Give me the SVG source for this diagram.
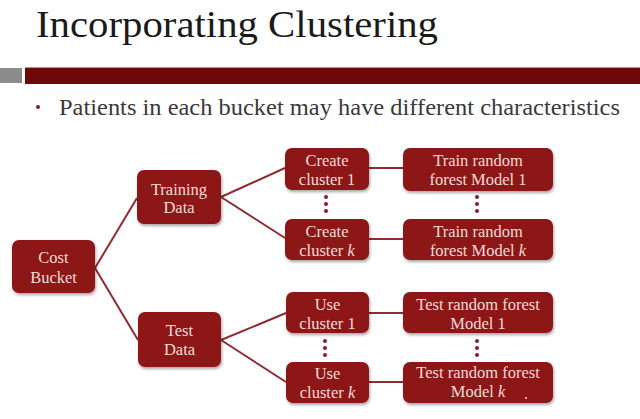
<svg xmlns="http://www.w3.org/2000/svg" width="640" height="419" viewBox="0 0 640 419">
<defs>
<filter id="sh" x="-10%" y="-10%" width="125%" height="140%">
<feDropShadow dx="1" dy="2" stdDeviation="1.5" flood-color="#000" flood-opacity="0.35"/>
</filter>
<style>
.box{fill:#8d1318;filter:url(#sh)}
.serif{font-family:"Liberation Serif","Times New Roman",serif}
.lbl{font-family:"Liberation Serif","Times New Roman",serif;font-size:16.5px;fill:#f3dcd9;text-anchor:middle}
.con line{stroke:#8e2a30;stroke-width:2}
.dot{fill:#8b1a2a}
</style>
</defs>
<rect width="640" height="419" fill="#ffffff"/>
<text class="serif" x="36" y="37" font-size="37" fill="#1a1a1a" textLength="402" lengthAdjust="spacingAndGlyphs">Incorporating Clustering</text>
<rect x="0" y="68" width="22" height="15" fill="#8c8c8c"/>
<rect x="25" y="67" width="615" height="17" fill="#6e0808"/>
<line x1="25" y1="67.5" x2="640" y2="67.5" stroke="#c89090" stroke-width="1"/>
<circle cx="38" cy="107" r="2" fill="#8b1a2a"/>
<text class="serif" x="59" y="115" font-size="23" fill="#3a3a3a" textLength="561" lengthAdjust="spacingAndGlyphs">Patients in each bucket may have different characteristics</text>
<g class="con" id="connectors">
<line x1="95" y1="268" x2="137" y2="198"/>
<line x1="95" y1="268" x2="138" y2="340"/>
<line x1="221" y1="197" x2="285" y2="168"/>
<line x1="221" y1="197" x2="285" y2="238"/>
<line x1="221" y1="340" x2="286" y2="313"/>
<line x1="221" y1="340" x2="286" y2="382"/>
<line x1="369" y1="168" x2="403" y2="168"/>
<line x1="369" y1="239" x2="403" y2="239"/>
<line x1="369" y1="313" x2="403" y2="313"/>
<line x1="369" y1="382" x2="403" y2="382"/>
<circle class="dot" cx="326" cy="197" r="2"/>
<circle class="dot" cx="326" cy="204" r="2"/>
<circle class="dot" cx="326" cy="211" r="2"/>
<circle class="dot" cx="477" cy="197" r="2"/>
<circle class="dot" cx="477" cy="204" r="2"/>
<circle class="dot" cx="477" cy="211" r="2"/>
<circle class="dot" cx="325" cy="341" r="2"/>
<circle class="dot" cx="325" cy="348" r="2"/>
<circle class="dot" cx="325" cy="355" r="2"/>
<circle class="dot" cx="477" cy="341" r="2"/>
<circle class="dot" cx="477" cy="348" r="2"/>
<circle class="dot" cx="477" cy="355" r="2"/>
</g>
<g id="cost-bucket"><rect class="box" x="12" y="240" width="83" height="53" rx="7"/><text class="lbl" x="53.5" y="263">Cost</text><text class="lbl" x="53.5" y="283">Bucket</text></g>
<g id="training-data"><rect class="box" x="137" y="170" width="84" height="54" rx="7"/><text class="lbl" x="179" y="195">Training</text><text class="lbl" x="179" y="213">Data</text></g>
<g id="test-data"><rect class="box" x="138" y="312" width="83" height="55" rx="7"/><text class="lbl" x="179.5" y="336">Test</text><text class="lbl" x="179.5" y="355">Data</text></g>
<g id="create-cluster-1"><rect class="box" x="285" y="148" width="84" height="42" rx="7"/><text class="lbl" x="327" y="166">Create</text><text class="lbl" x="327" y="185">cluster 1</text></g>
<g id="create-cluster-k"><rect class="box" x="285" y="219" width="84" height="41" rx="7"/><text class="lbl" x="327" y="237">Create</text><text class="lbl" x="327" y="256">cluster <tspan font-style="italic">k</tspan></text></g>
<g id="train-model-1"><rect class="box" x="403" y="148" width="150" height="43" rx="7"/><text class="lbl" x="478" y="166">Train random</text><text class="lbl" x="478" y="185">forest Model 1</text></g>
<g id="train-model-k"><rect class="box" x="403" y="219" width="150" height="41" rx="7"/><text class="lbl" x="478" y="237">Train random</text><text class="lbl" x="478" y="256">forest Model <tspan font-style="italic">k</tspan></text></g>
<g id="use-cluster-1"><rect class="box" x="286" y="292" width="83" height="41" rx="7"/><text class="lbl" x="327.5" y="310">Use</text><text class="lbl" x="327.5" y="329">cluster 1</text></g>
<g id="use-cluster-k"><rect class="box" x="286" y="362" width="83" height="41" rx="7"/><text class="lbl" x="327.5" y="379">Use</text><text class="lbl" x="327.5" y="398">cluster <tspan font-style="italic">k</tspan></text></g>
<g id="test-model-1"><rect class="box" x="403" y="292" width="150" height="41" rx="7"/><text class="lbl" x="478" y="310">Test random forest</text><text class="lbl" x="478" y="329">Model 1</text></g>
<g id="test-model-k"><rect class="box" x="403" y="362" width="150" height="41" rx="7"/><text class="lbl" x="478" y="378">Test random forest</text><text class="lbl" x="478" y="397">Model <tspan font-style="italic">k</tspan></text><circle cx="526" cy="398" r="1" fill="#f3dcd9"/></g>
</svg>
